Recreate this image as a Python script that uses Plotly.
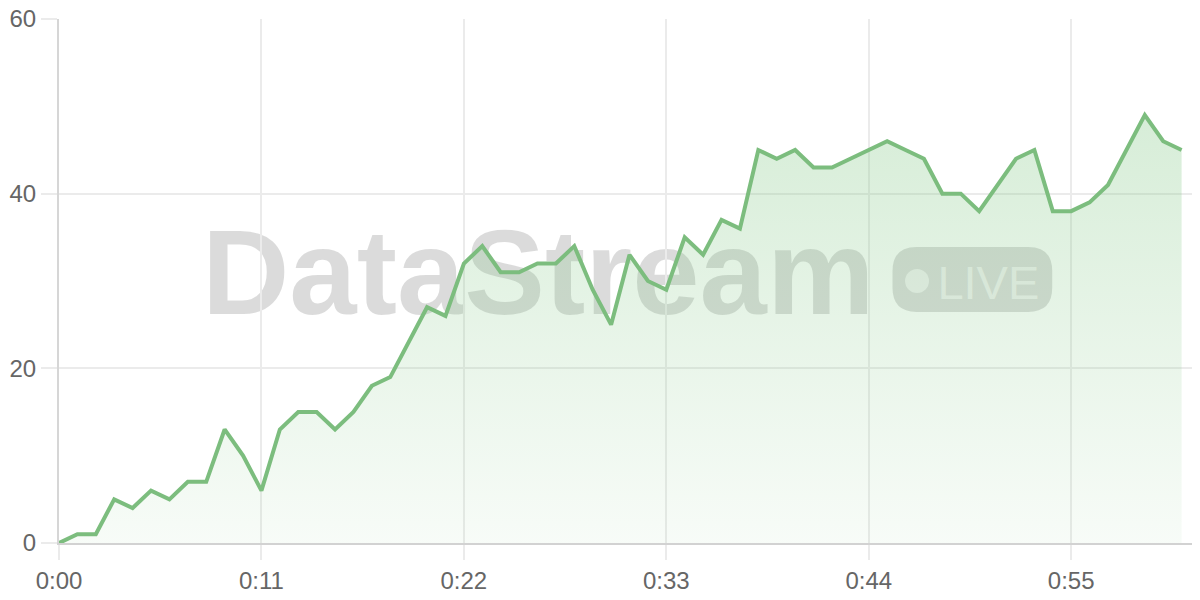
import plotly.graph_objects as go

# === Données ===
SECONDS = list(range(62))
VALUES = [0, 1, 1, 5, 4, 6, 5, 7, 7, 13,
          10, 6, 13, 15, 15, 13, 15, 18, 19, 23,
          27, 26, 32, 34, 31, 31, 32, 32, 34, 29,
          25, 33, 30, 29, 35, 33, 37, 36, 45, 44,
          45, 43, 43, 44, 45, 46, 45, 44, 40, 40,
          38, 41, 44, 45, 38, 38, 39, 41, 45, 49,
          46, 45]
X_TICKS = [0, 11, 22, 33, 44, 55]
X_LABELS = ["0:00", "0:11", "0:22", "0:33", "0:44", "0:55"]
Y_TICKS = [0, 20, 40, 60]

LINE_COLOR = "rgb(124,189,126)"
GRID = "#ebebeb"
MARK = "rgba(0,0,0,0.14)"
KNOCK = "rgba(255,255,255,0.6)"
FONT = "Liberation Sans"


def rounded_rect(x0, y0, x1, y1, rx, ry):
    """Chemin SVG d'un rectangle aux coins arrondis (coordonnées domaine)"""
    return (f"M {x0+rx},{y0} L {x1-rx},{y0} Q {x1},{y0} {x1},{y0+ry} "
            f"L {x1},{y1-ry} Q {x1},{y1} {x1-rx},{y1} L {x0+rx},{y1} "
            f"Q {x0},{y1} {x0},{y1-ry} L {x0},{y0+ry} Q {x0},{y0} {x0+rx},{y0} Z")


fig = go.Figure()

fig.add_trace(go.Scatter(
    x=SECONDS, y=VALUES,
    mode="lines",
    line=dict(color=LINE_COLOR, width=4),
    fill="tozeroy",
    fillgradient=dict(
        type="vertical",
        colorscale=[[0, "rgba(129,199,132,0.06)"], [1, "rgba(129,199,132,0.32)"]],
    ),
    hoverinfo="skip",
))

# Filigrane "DataStream" + badge LIVE (sous les traces)
dom = dict(xref="x domain", yref="y domain", layer="below")
shapes = [
    dict(type="rect", x0=0.12, x1=0.72, y0=0.419, y1=0.659,
         line=dict(width=0), fillcolor="rgba(0,0,0,0)",
         label=dict(text="<b>DataStream</b>", textposition="middle center",
                    font=dict(family=FONT, size=121, color=MARK)), **dom),
    dict(type="path", path=rounded_rect(0.7305, 0.441, 0.8705, 0.565, 0.021, 0.046),
         line=dict(width=0), fillcolor=MARK, **dom),
    dict(type="circle", x0=0.7415, x1=0.7625, y0=0.477, y1=0.523,
         line=dict(width=0), fillcolor=KNOCK, **dom),
    dict(type="rect", x0=0.767, x1=0.862, y0=0.45, y1=0.56,
         line=dict(width=0), fillcolor="rgba(0,0,0,0)",
         label=dict(text="LIVE", textposition="middle center",
                    font=dict(family=FONT, size=47, color=KNOCK)), **dom),
]

# la page ajoute 8 px de marge : figure de 1192x592 pour remplir la fenêtre
fig.update_layout(
    width=1192, height=592,
    margin=dict(l=51, r=0, t=11, b=57),
    paper_bgcolor="white",
    plot_bgcolor="white",
    showlegend=False,
    shapes=shapes,
    font=dict(family=FONT, size=24, color="#666"),
    xaxis=dict(
        range=[0, 62], tickvals=X_TICKS, ticktext=X_LABELS,
        showgrid=True, gridcolor=GRID, gridwidth=2,
        showline=True, linecolor="#d2d2d2", linewidth=2,
        ticks="outside", ticklen=15, tickwidth=2, tickcolor=GRID,
        zeroline=False, automargin=False, ticklabeloverflow="allow",
    ),
    yaxis=dict(
        range=[0, 60], tickvals=Y_TICKS,
        showgrid=True, gridcolor=GRID, gridwidth=2,
        showline=True, linecolor="#d6d6d6", linewidth=2,
        ticks="outside", ticklen=16, tickwidth=2, tickcolor=GRID,
        zeroline=False, automargin=False, ticklabeloverflow="allow",
    ),
)

fig.write_html("out.html")
